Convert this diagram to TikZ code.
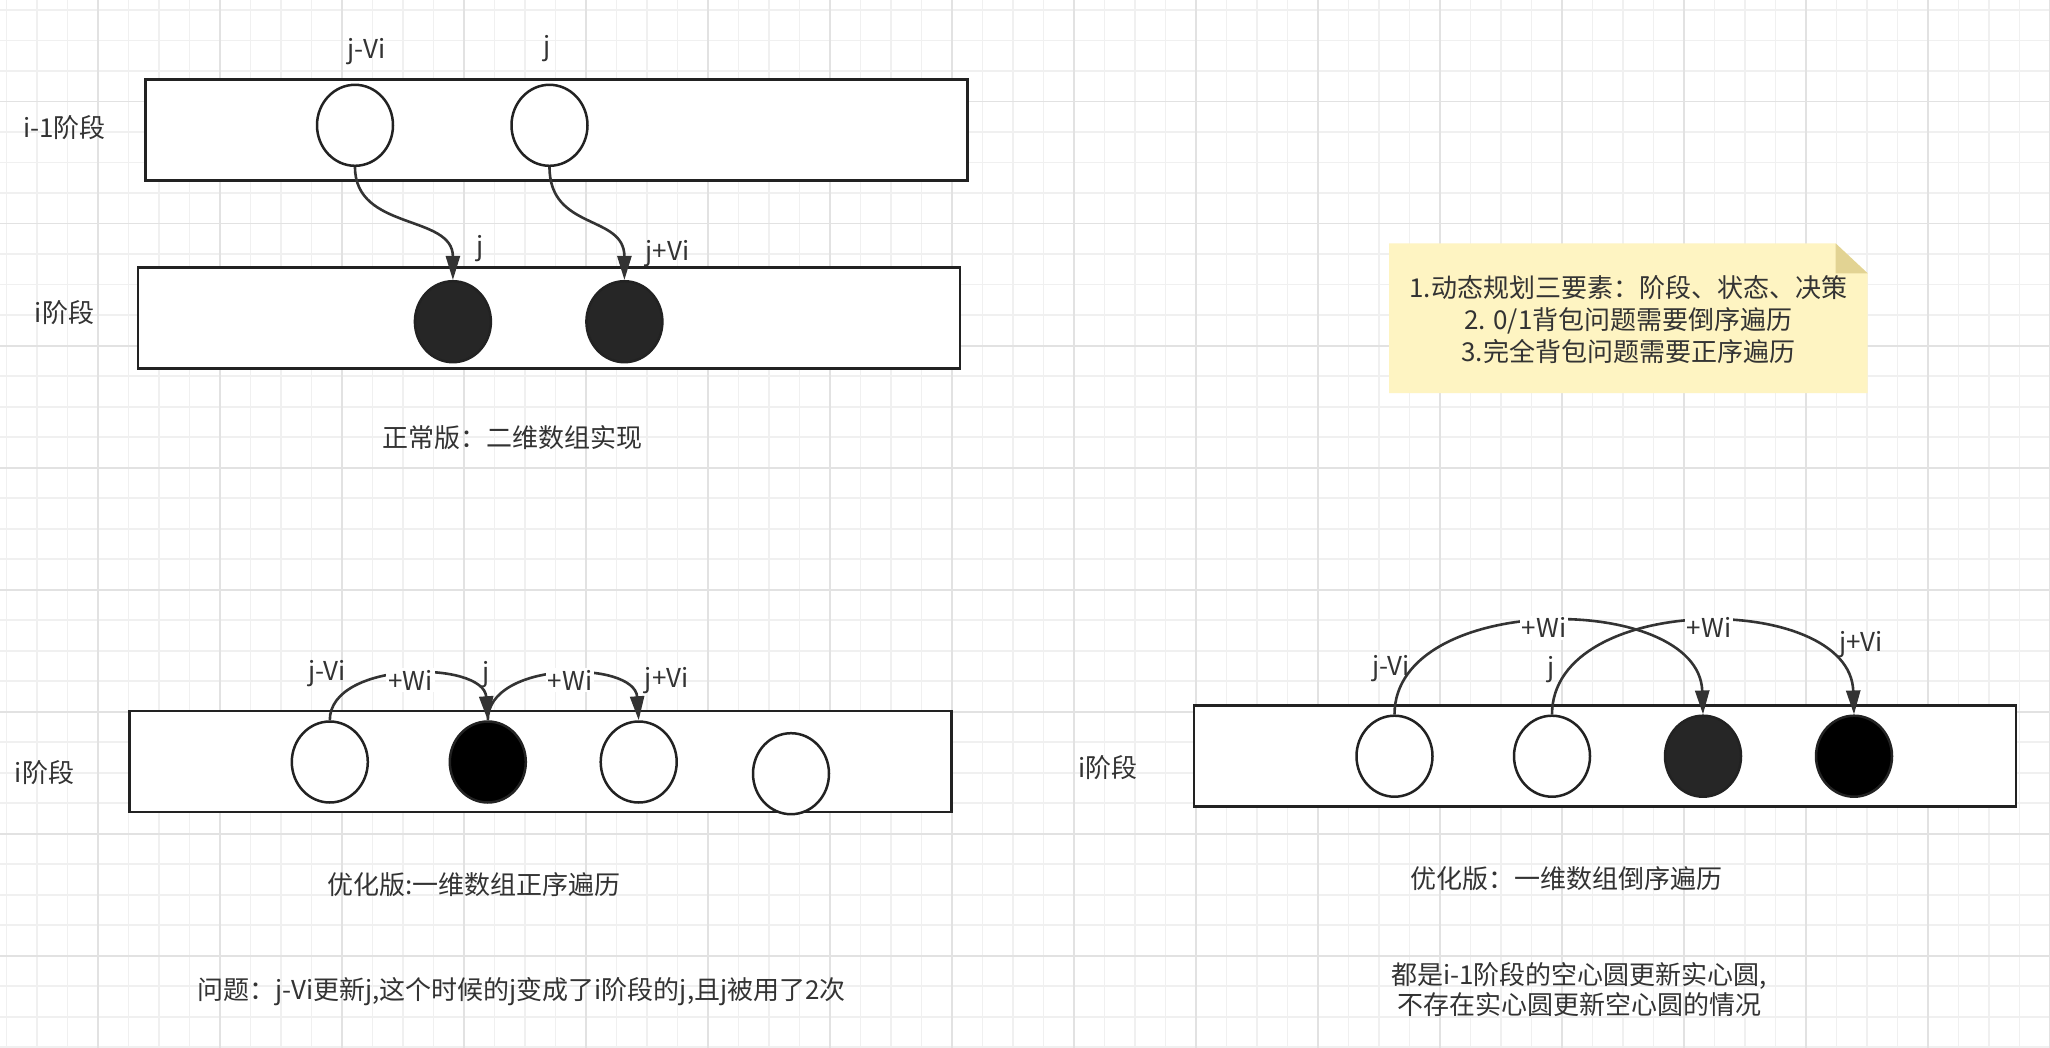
\documentclass[tikz,border=0pt]{standalone}
\usepackage{fontspec}
\setmainfont{Noto Sans CJK SC}
\usetikzlibrary{shapes.geometric,arrows.meta}
\definecolor{txt}{HTML}{333333}
\definecolor{strk}{HTML}{222222}
\definecolor{edgec}{HTML}{333333}
\definecolor{fillA}{HTML}{262626}
\definecolor{gridminor}{HTML}{F0F0F0}
\definecolor{gridmajor}{HTML}{E2E2E2}
\definecolor{notefill}{HTML}{FEF4C2}
\definecolor{notefold}{HTML}{E2D393}
\begin{document}
\begin{tikzpicture}[x=0.5pt,y=-0.5pt,
  font=\fontsize{13pt}{16pt}\selectfont,
  gminor/.style={draw=gridminor,line width=0.8pt},
  gmajor/.style={draw=gridmajor,line width=0.8pt},
  stage/.style={rectangle,draw=strk,line width=1.4pt,fill=white,inner sep=0pt,minimum width=411pt,minimum height=50.5pt},
  hollow/.style={ellipse,draw=strk,line width=1.25pt,fill=white,inner sep=0pt,minimum width=38pt,minimum height=40.5pt},
  filledc/.style={hollow,fill=#1},
  lbl/.style={text=txt,inner sep=1pt},
  wlbl/.style={lbl,fill=white},
  conn/.style={draw=edgec,line width=1.3pt,-{Triangle[length=12pt,width=7pt]}}
]
\fill[white] (0,0) rectangle (2050,1048);
\useasboundingbox (0,0) rectangle (2050,1048);
% grid
\foreach \k in {0,...,67} \draw[gminor] ({6.5+30.5*\k},0) -- ({6.5+30.5*\k},1048);
\foreach \k in {0,...,34} \draw[gminor] (0,{10.2+30.5*\k}) -- (2050,{10.2+30.5*\k});
\foreach \k in {0,...,16} \draw[gmajor] ({98+122*\k},0) -- ({98+122*\k},1048);
\foreach \k in {0,...,7} \draw[gmajor] (0,{101.7+122*\k}) -- (2050,{101.7+122*\k});

% stage bars
\node[stage] (r1) at (556.7,129.8) {};
\node[stage] (r2) at (548.9,317.8) {};
\node[stage] (r3) at (540.8,761.4) {};
\node[stage] (r4) at (1605,756.2) {};

% diagram 1
\node[hollow] (u1) at (355,125.3) {};
\node[hollow] (u2) at (549.5,125.3) {};
\node[filledc=fillA] (l1) at (452.9,321.7) {};
\node[filledc=fillA] (l2) at (624.4,321.7) {};
\draw[conn] (u1.south) .. controls +(0,64) and +(0,-66) .. (l1.north);
\draw[conn] (u2.south) .. controls +(0,64) and +(0,-66) .. (l2.north);
\node[lbl] (t1) at (64.5,128) {i-1阶段};
\node[lbl] (t2) at (64.5,313) {i阶段};
\node[lbl] (ju1) at (366.7,51.7) {j-Vi};
\node[lbl] (ju2) at (546.6,49) {j};
\node[lbl] (jl1) at (480.4,249) {j};
\node[lbl] (jl2) at (667.5,254) {j+Vi};
\node[lbl] (cap1) at (512.8,437.5) {正常版：二维数组实现};

% diagram 2
\node[hollow] (a1) at (329.8,762) {};
\node[filledc=black] (a2) at (487.8,762) {};
\node[hollow] (a3) at (638.7,762) {};
\node[hollow] (a4) at (791,773.7) {};
\draw[conn] (a1.north) .. controls +(0,-60) and +(-4,-60) .. (a2.north);
\draw[conn] (a2.north) .. controls +(0,-60) and +(-4,-60) .. (a3.north);
\node[wlbl] (w1) at (410.6,680) {+Wi};
\node[wlbl] (w2) at (570,680) {+Wi};
\node[lbl] (t3) at (44.5,772.7) {i阶段};
\node[lbl] (ja1) at (327,674) {j-Vi};
\node[lbl] (ja2) at (486,675) {j};
\node[lbl] (ja3) at (666.8,681) {j+Vi};
\node[lbl] (cap2) at (474,885) {优化版:一维数组正序遍历};
\node[lbl] (cap4) at (521.6,992) {问题：j-Vi更新j,这个时候的j变成了i阶段的j,且j被用了2次};

% diagram 3
\node[hollow] (b1) at (1394.5,756.2) {};
\node[hollow] (b2) at (1552,756.2) {};
\node[filledc=fillA] (b3) at (1703,756.2) {};
\node[filledc=black] (b4) at (1854,756.2) {};
\draw[conn] (b1.north) .. controls +(0,-123) and +(-4,-123) .. (b3.north);
\draw[conn] (b2.north) .. controls +(0,-123) and +(-4,-123) .. (b4.north);
\node[wlbl] (w3) at (1544,627.7) {+Wi};
\node[wlbl] (w4) at (1709,627.7) {+Wi};
\node[lbl] (t4) at (1108,768) {i阶段};
\node[lbl] (jb1) at (1391,669) {j-Vi};
\node[lbl] (jb2) at (1550.6,670) {j};
\node[lbl] (jb3) at (1861,645) {j+Vi};
\node[lbl] (cap3) at (1566,878.5) {优化版：一维数组倒序遍历};
\node[lbl,align=center,font=\fontsize{13pt}{15pt}\selectfont] (cap5) at (1579,990) {都是i-1阶段的空心圆更新实心圆,\\不存在实心圆更新空心圆的情况};

% note
\fill[notefill] (1389,243.3) -- (1835.5,243.3) -- (1867.6,273.3) -- (1867.6,393) -- (1389,393) -- cycle;
\fill[notefold] (1835.5,243.3) -- (1835.5,273.3) -- (1867.6,273.3) -- cycle;
\node[lbl,align=center] (note) at (1628.3,319.5) {1.动态规划三要素：阶段、状态、决策\\2. 0/1背包问题需要倒序遍历\\3.完全背包问题需要正序遍历};
\end{tikzpicture}
\end{document}
